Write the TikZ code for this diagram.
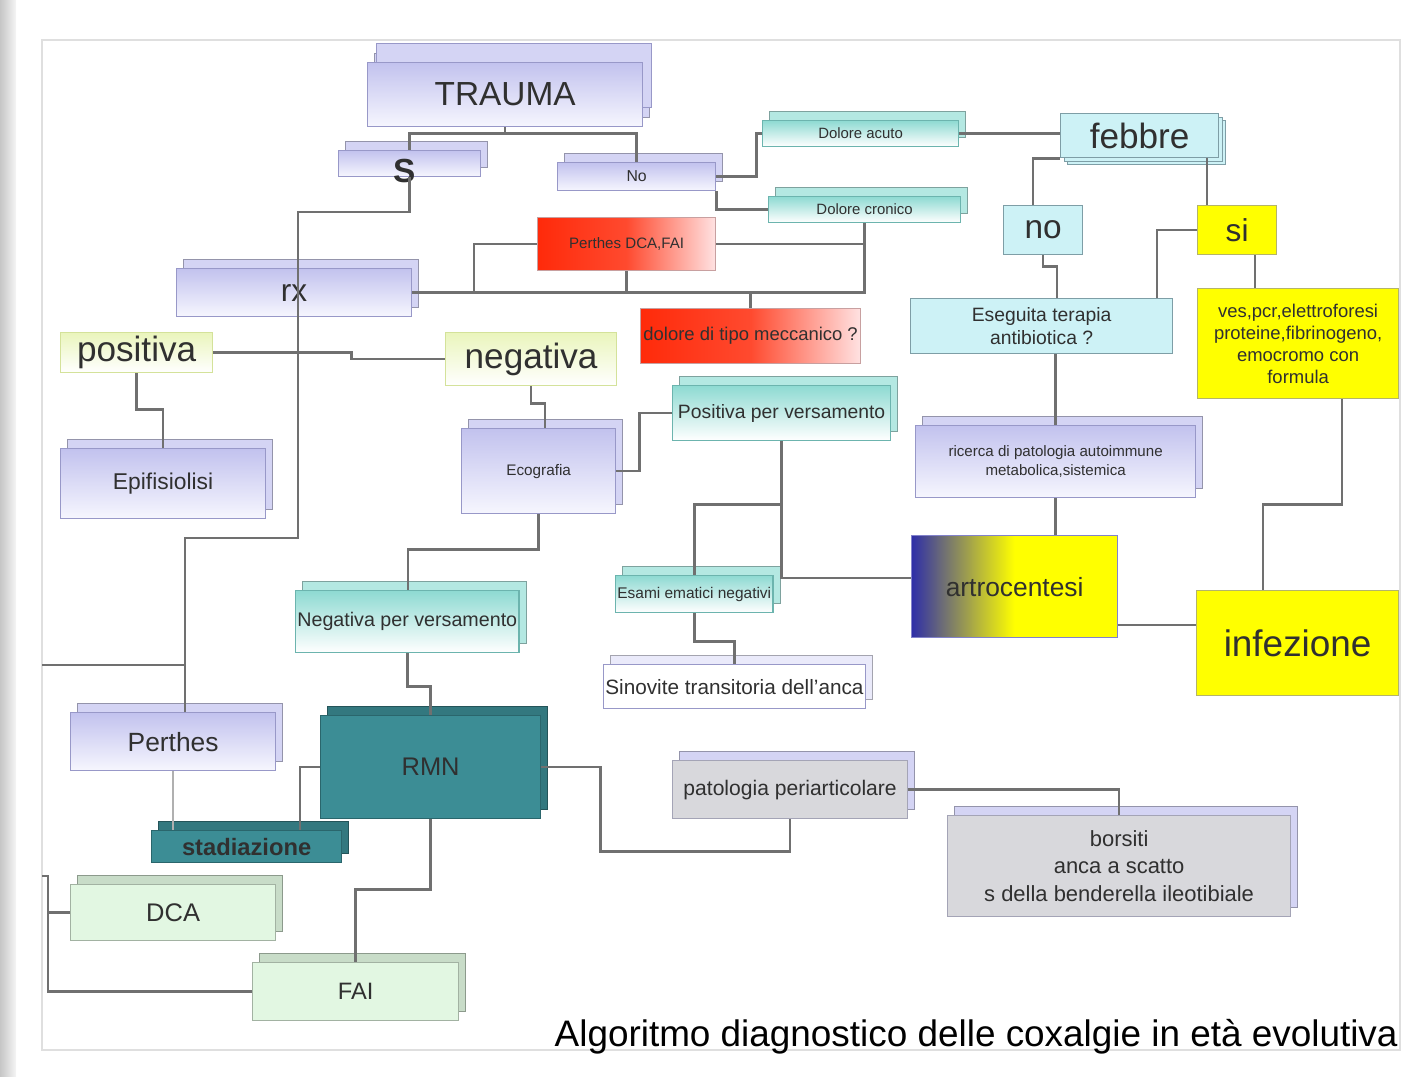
\documentclass[tikz,border=0pt]{standalone}
\usepackage{fontspec}
\setmainfont{Liberation Sans}
\usetikzlibrary{shadows}

\definecolor{lavtop}{HTML}{C2C2EE}
\definecolor{lavbot}{HTML}{F6F6FE}
\definecolor{lavback}{HTML}{D4D4F4}
\definecolor{lavedge}{HTML}{9898C8}
\definecolor{sinback}{HTML}{EAEAFA}
\definecolor{cyantop}{HTML}{8EDAD2}
\definecolor{cyanback}{HTML}{B4E8E2}
\definecolor{cyanedge}{HTML}{6CB4AE}
\definecolor{icecyan}{HTML}{CDF2F6}
\definecolor{iceedge}{HTML}{7E9EA6}
\definecolor{labyellow}{HTML}{FFFF00}
\definecolor{yellowedge}{HTML}{B4B46A}
\definecolor{limetop}{HTML}{EAF5BC}
\definecolor{limeedge}{HTML}{D4E29A}
\definecolor{tealfill}{HTML}{3C8D95}
\definecolor{tealback}{HTML}{33787F}
\definecolor{tealedge}{HTML}{2A666C}
\definecolor{greyfill}{HTML}{D8D8DC}
\definecolor{greyedge}{HTML}{A4A4B6}
\definecolor{mintfill}{HTML}{E2F7E2}
\definecolor{mintback}{HTML}{C8DCC8}
\definecolor{mintedge}{HTML}{A2B2A2}
\definecolor{alarm}{HTML}{FF2A0A}
\definecolor{alarmlight}{HTML}{FFE2E2}
\definecolor{alarmedge}{HTML}{C8A0A0}
\definecolor{artroblue}{HTML}{2E2EA8}
\definecolor{linkgrey}{HTML}{707070}
\definecolor{inkgrey}{HTML}{303030}

\tikzset{
  blk/.style={draw, line width=0.7pt, anchor=north west, inner sep=1pt, align=center, text=inkgrey},
  wh/.style 2 args={minimum width=#1*0.02cm, minimum height=#2*0.02cm},
  fs/.style 2 args={font=\fontsize{#1}{#2}\selectfont},
  fsb/.style 2 args={font=\fontsize{#1}{#2}\selectfont\bfseries},
  depth/.style={general shadow={fill=#1, draw=#1!70!black, line width=0.5pt, shadow xshift=4pt, shadow yshift=5pt}},
  lavbox/.style={blk, draw=lavedge, top color=lavtop, bottom color=lavbot, depth=lavback},
  cyanbox/.style={blk, draw=cyanedge, top color=cyantop, bottom color=white, depth=cyanback},
  icebox/.style={blk, draw=iceedge, fill=icecyan},
  yelbox/.style={blk, draw=yellowedge, fill=labyellow},
  limebox/.style={blk, draw=limeedge, top color=limetop, bottom color=white},
  alarmbox/.style={blk, draw=alarmedge, left color=alarm, right color=alarmlight, middle color=alarm!85!white},
  tealbox/.style={blk, draw=tealedge, fill=tealfill, depth=tealback},
  greybox/.style={blk, draw=greyedge, fill=greyfill, depth=lavback},
  mintbox/.style={blk, draw=mintedge, fill=mintfill, depth=mintback},
  link/.style={draw=linkgrey, line width=1.5pt},
  thinlink/.style={draw=linkgrey!55, line width=0.8pt},
}

\begin{document}
\begin{tikzpicture}[x=0.02cm, y=-0.02cm]
        \useasboundingbox (0,0) rectangle (1418,1077);
        % Page
        \shade[left color=gray!45, right color=gray!8] (0,0) rectangle (16,1077);
        \draw[gray!25, line width=0.6pt] (42,40) rectangle (1400,1050);

        % Nodes
        \node (trauma) [lavbox, wh={275}{64}, fs={19}{23}, general shadow={fill=lavback, draw=lavedge, shadow xshift=5pt, shadow yshift=11pt}] at (367,62) {TRAUMA};
        \node (sbox) [lavbox, wh={142}{26}, label={[fsb={19}{23}, text=inkgrey, xshift=-3pt, yshift=-4pt]center:S}] at (338,150) {};
        \node (nobox) [lavbox, wh={158}{28}, fs={9}{11}] at (557,162) {No};
        \node (acuto) [cyanbox, wh={196}{26}, fs={8.5}{10}] at (762,120) {Dolore acuto};
        \node (cronico) [cyanbox, wh={192}{26}, fs={8.5}{10}] at (768,196) {Dolore cronico};
        \node (febbre) [icebox, wh={158}{44}, fs={20}{24}, double copy shadow={shadow xshift=2pt, shadow yshift=-2pt, fill=icecyan, draw=iceedge}] at (1060,113) {febbre};
        \node (no) [icebox, wh={79}{49}, fs={19}{23}] at (1003,205) {no};
        \node (si) [yelbox, wh={79}{49}, fs={18}{22}] at (1197,205) {si};
        \node (pdf) [alarmbox, wh={178}{53}, fs={8.6}{10}] at (537,217) {Perthes DCA,FAI};
        \node (rx) [lavbox, wh={235}{48}, fs={18}{22}] at (176,268) {rx};
        \node (mecc) [alarmbox, wh={220}{55}, fs={10.5}{12}] at (640,308) {dolore di tipo meccanico ?};
        \node (terapia) [icebox, wh={262}{55}, fs={11}{13}] at (910,298) {Eseguita terapia\\antibiotica ?};
        \node (labs) [yelbox, wh={201}{110}, fs={10.5}{12.5}] at (1197,288) {ves,pcr,elettroforesi\\proteine,fibrinogeno,\\emocromo con\\formula};
        \node (positiva) [limebox, wh={152}{40}, fs={20}{24}] at (60,332) {positiva};
        \node (negativa) [limebox, wh={171}{53}, fs={20}{24}] at (445,332) {negativa};
        \node (posvers) [cyanbox, wh={218}{55}, fs={11}{13}] at (672,385) {Positiva per versamento};
        \node (epifi) [lavbox, wh={205}{70}, fs={13}{15}] at (60,448) {Epifisiolisi};
        \node (eco) [lavbox, wh={154}{85}, fs={8.7}{10}] at (461,428) {Ecografia};
        \node (ricerca) [lavbox, wh={280}{72}, fs={8.6}{10.5}] at (915,425) {ricerca di patologia autoimmune\\metabolica,sistemica};
        \node (artro) [blk, draw=artroblue!60, wh={206}{102}, fs={15}{18}, left color=artroblue, right color=labyellow, middle color=labyellow] at (911,535) {artrocentesi};
        \node (infez) [yelbox, wh={202}{105}, fs={21}{25}] at (1196,590) {infezione};
        \node (negvers) [cyanbox, wh={213}{62}, fs={11.2}{13}] at (295,590) {Negativa per versamento};
        \node (ematici) [cyanbox, wh={156}{37}, fs={8.8}{11}] at (615,575) {Esami ematici negativi};
        \node (sinov) [blk, draw=lavedge, fill=white, depth=sinback, wh={250}{44}, fs={11.8}{14}] at (603,664) {Sinovite transitoria dell'anca};
        \node (perthes) [lavbox, wh={205}{58}, fs={15}{18}] at (70,712) {Perthes};
        \node (rmn) [tealbox, wh={220}{103}, fs={14.5}{17}] at (320,715) {RMN};
        \node (stadia) [tealbox, wh={190}{32}, fsb={13.5}{16}] at (151,830) {stadiazione};
        \node (patol) [greybox, wh={235}{58}, fs={12}{14}] at (672,760) {patologia periarticolare};
        \node (borsiti) [greybox, wh={343}{101}, fs={12.5}{15.5}] at (947,815) {borsiti\\anca a scatto\\s della benderella ileotibiale};
        \node (dca) [mintbox, wh={205}{56}, fs={14.5}{17}] at (70,884) {DCA};
        \node (fai) [mintbox, wh={206}{58}, fs={13.5}{16}] at (252,962) {FAI};
        \node (caption) [anchor=base east, inner sep=0pt, fs={21}{25}] at (1398,1047) {Algoritmo diagnostico delle coxalgie in età evolutiva};
        \coordinate (stubA) at (42,665);
        \coordinate (stubB) at (42,876);

        % Connectors
        \draw[link] (trauma.south) -- ++(0,6) -| (sbox.north);
        \draw[link] (trauma.south) ++(0,6) -| (nobox.north);
        \draw[link] (sbox.south) |- (298,212) |- (185,538) -- (perthes.north -| 185,0);
        \draw[link] (stubA) -- (stubA -| 185,0);
        \draw[link] (nobox.east) -- ++(40,0) |- (acuto.west);
        \draw[link] (nobox.south east) |- (cronico.west);
        \draw[link] (acuto.east) -- (acuto.east -| febbre.west);
        \draw[link] (febbre.south west) -| (no.north -| 1033,0);
        \draw[link] (febbre.south -| 1207,0) -- (si.north -| 1207,0);
        \draw[link] (rx.east) -| (cronico.south);
        \draw[link] (pdf.south) -- (pdf.south |- rx.east);
        \draw[link] (mecc.north) -- (mecc.north |- rx.east);
        \draw[link] (pdf.west) -| (rx.east -| 474,0);
        \draw[link] (pdf.east) -- (pdf.east -| cronico.south);
        \draw[link] (no.south) -- ++(0,11) -| (terapia.north -| 1057,0);
        \draw[link] (si.west) -| (terapia.north -| 1157,0);
        \draw[link] (si.south -| 1255,0) -- (labs.north -| 1255,0);
        \draw[link] (terapia.south -| ricerca.north) -- (ricerca.north);
        \draw[link] (ricerca.south) -- (ricerca.south |- artro.north);
        \draw[link] (labs.south -| 1342,0) -- ++(0,105) -| (infez.north -| 1263,0);
        \draw[link] (artro.east |- 0,625) -- (infez.west |- 0,625);
        \draw[link] (posvers.south) |- (artro.west |- 0,578);
        \draw[link] (posvers.south) ++(0,63) -| (ematici.north);
        \draw[link] (ematici.south) -- ++(0,28) -| (sinov.north);
        \draw[link] (eco.east) -- ++(23,0) |- (posvers.west);
        \draw[link] (negativa.south) -- ++(0,17) -| (eco.north -| 545,0);
        \draw[link] (eco.south) -- ++(0,35) -| (negvers.north -| 408,0);
        \draw[link] (negvers.south) -- ++(0,33) -| (rmn.north);
        \draw[link] (positiva.east) -- ++(138,0) |- (negativa.west);
        \draw[link] (positiva.south) -- ++(0,36) -| (epifi.north);
        \draw[link] (rmn.west) -| (stadia.north -| 300,0);
        \draw[thinlink] (perthes.south) -- (perthes.south |- stadia.north);
        \draw[link] (rmn.south) -- ++(0,70) -| (fai.north);
        \draw[link] (rmn.east) -- ++(59,0) |- ([yshift=-0.64cm]patol.south) -- (patol.south);
        \draw[link] (patol.east) -| (borsiti.north);
        \draw[link] (stubB) -- ++(6,0) |- (fai.west);
        \draw[link] (dca.west) -- (dca.west -| 48,0);
    \end{tikzpicture}
\end{document}
